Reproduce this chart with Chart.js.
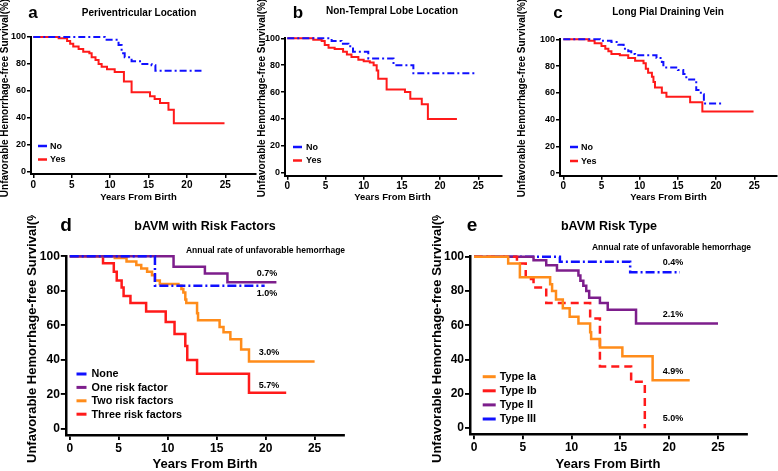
<!DOCTYPE html>
<html>
<head>
<meta charset="utf-8">
<script src="https://cdn.jsdelivr.net/npm/chart.js@4.4.1/dist/chart.umd.min.js"></script>
<style>
  body { margin: 0; background: #fff; width: 778px; height: 471px; position: relative; overflow: hidden; }
  canvas { position: absolute; }
</style>
</head>
<body>
<canvas id="ca" width="258" height="215" style="left:0;top:0"></canvas>
<canvas id="cb" width="255" height="215" style="left:255px;top:0"></canvas>
<canvas id="cc" width="263" height="215" style="left:515px;top:0"></canvas>
<canvas id="cd" width="390" height="256" style="left:0;top:215px"></canvas>
<canvas id="ce" width="388" height="256" style="left:390px;top:215px"></canvas>

<script>
// ---- data (years from birth / survival %) ----
const xTicks = [0, 5, 10, 15, 20, 25];
const yTicks = [0, 20, 40, 60, 80, 100];

// a: periventricular location
const aNoT  = [0, 9.3, 11.1, 11.5, 11.9, 12.8, 13.9, 15.4, 15.9, 21.9];
const aNoV  = [100, 98, 94, 88, 85, 82, 80, 79, 75, 75];
const aYesT = [0, 3.3, 4.4, 4.8, 5.2, 5.9, 6.5, 7.3, 7.6, 8.1, 8.5, 8.9, 9.6, 10.6, 11.8, 12.8, 15.2, 15.8, 16.5, 17.6, 18.3, 24.9];
const aYesV = [100, 99, 97, 95, 93, 91, 89, 88, 85, 83, 80, 78, 76, 74, 67, 59, 56, 54, 51, 46, 36, 36];

// b: non-temporal lobe location
const bNoT  = [0, 5.8, 7.1, 8.0, 8.6, 10.6, 13.9, 16.5, 24.8];
const bNoV  = [100, 98, 96, 94, 90, 85, 80, 74, 74];
const bYesT = [0, 3.4, 4.5, 4.9, 5.4, 6.2, 7.3, 7.8, 8.4, 9.3, 10.0, 10.8, 11.3, 11.7, 11.9, 13.0, 15.4, 16.1, 17.6, 18.4, 22.2];
const bYesV = [100, 99, 98, 95, 93, 92, 90, 88, 86, 84, 83, 82, 80, 76, 70, 62, 60, 55, 51, 40, 40];

// c: long pial draining vein
const cNoT  = [0, 4.8, 6.3, 7.2, 7.9, 8.5, 8.9, 9.4, 12.2, 12.9, 13.1, 15.0, 15.7, 16.1, 17.4, 18.0, 18.4, 20.9];
const cNoV  = [100, 99, 98, 96, 93, 91, 89, 88, 86, 83, 79, 77, 74, 70, 62, 59, 52, 52];
const cYesT = [0, 3.3, 4.1, 5.0, 5.5, 5.9, 6.3, 7.4, 8.5, 9.4, 10.5, 10.8, 11.1, 11.6, 11.8, 12.0, 12.9, 13.5, 16.6, 18.2, 24.9];
const cYesV = [100, 99, 97, 95, 93, 91, 89, 88, 86, 84, 82, 78, 75, 72, 68, 64, 60, 57, 53, 46, 46];

// d: number of risk factors
const dNames  = ['None', 'One risk factor', 'Two risk factors', 'Three risk factors'];
const dNoneT  = [0, 8.7, 19.9];
const dNoneV  = [100, 83, 83];
const dOneT   = [0, 10.6, 13.8, 16.1, 21.1];
const dOneV   = [100, 94, 90, 85, 85];
const dTwoT   = [0, 4.6, 5.8, 6.8, 7.3, 7.9, 8.4, 8.7, 9.2, 11.1, 11.4, 11.6, 11.8, 11.9, 13.0, 13.1, 15.3, 15.7, 16.4, 17.5, 18.3, 25.0];
const dTwoV   = [100, 99, 97, 95, 93, 91, 89, 86, 84, 83, 81, 79, 75, 73, 67, 63, 59, 56, 52, 46, 39, 39];
const dThreeT = [0, 3.4, 4.5, 4.8, 5.3, 5.5, 6.2, 7.8, 9.8, 10.7, 11.8, 12.0, 13.0, 18.3, 22.1];
const dThreeV = [100, 96, 91, 86, 82, 77, 73, 68, 62, 55, 48, 40, 32, 21, 21];
const dRates  = ['0.7%', '1.0%', '3.0%', '5.7%'];

// e: risk type
const eNames = ['Type Ia', 'Type Ib', 'Type II', 'Type III'];
const eIaT   = [0, 3.5, 4.7, 7.8, 8.0, 8.4, 9.1, 9.8, 10.7, 11.9, 12.0, 12.9, 15.2, 18.3, 22.1];
const eIaV   = [100, 96, 88, 84, 80, 75, 70, 65, 61, 56, 52, 47, 42, 28, 28];
const eIbT   = [0, 4.4, 5.3, 6.1, 7.4, 11.9, 12.9, 16.1, 17.5];
const eIbV   = [100, 96, 87, 82, 73, 64, 36, 27, 0];
const eIIT   = [0, 6.1, 7.4, 8.5, 10.7, 10.9, 11.2, 11.5, 11.8, 12.9, 13.7, 16.6, 25.0];
const eIIV   = [100, 98, 95, 92, 89, 86, 83, 80, 76, 73, 69, 61, 61];
const eIIIT  = [0, 8.8, 16.0, 21.1];
const eIIIV  = [100, 97, 91, 91];
const eRates = ['0.4%', '2.1%', '4.9%', '5.0%'];

// ---- styles ----
const FONT   = '"Liberation Sans", Arial, Helvetica, sans-serif';
const BLUE   = '#1010ff';
const RED    = '#ff1a1a';
const ORANGE = '#ff8c1a';
const PURPLE = '#7d1e8c';
const DASHDOT = [7, 3, 2, 3];
const YTITLE = 'Unfavorable Hemorrhage-free Survival(%)';

function pts(t, v) {
  return t.map((x, i) => ({ x, y: v[i] }));
}

function serie(label, t, v, color, width, dash) {
  return {
    label, data: pts(t, v), borderColor: color, borderWidth: width,
    borderDash: dash || [], stepped: true, pointRadius: 0, fill: false, clip: false
  };
}

// textos, leyenda y titulos dibujados encima
const deco = {
  id: 'deco',
  afterDraw(chart, args, o) {
    const ctx = chart.ctx;
    const [ox, oy] = o.off;
    ctx.save();
    ctx.fillStyle = '#000';
    ctx.textBaseline = 'middle';
    o.texts.forEach(t => {
      ctx.font = `bold ${t.size}px ${FONT}`;
      ctx.textAlign = t.align || 'center';
      ctx.save();
      ctx.translate(t.x - ox, t.y - oy);
      if (t.rot) ctx.rotate(t.rot);
      ctx.fillText(t.text, 0, 0);
      ctx.restore();
    });
    const lg = o.legend;
    ctx.font = `bold ${lg.size}px ${FONT}`;
    ctx.textAlign = 'left';
    chart.data.datasets.forEach((ds, i) => {
      const y = lg.y + i * lg.gap - oy;
      const x = lg.x - ox;
      ctx.strokeStyle = ds.borderColor;
      ctx.lineWidth = ds.borderWidth + 0.5;
      ctx.setLineDash([]);
      ctx.beginPath();
      ctx.moveTo(x, y);
      ctx.lineTo(x + lg.len, y);
      ctx.stroke();
      ctx.fillText(ds.label, x + lg.len + lg.pad, y + 0.5);
    });
    ctx.restore();
  }
};

function kmChart(id, p) {
  const tickFont = { family: FONT, weight: 'bold' };
  return new Chart(document.getElementById(id), {
    type: 'line',
    data: { datasets: p.datasets },
    plugins: [deco],
    options: {
      responsive: false,
      animation: false,
      devicePixelRatio: 1,
      layout: { padding: { left: 0, top: p.area.t, right: p.w - p.area.r, bottom: 0 } },
      plugins: {
        legend: { display: false },
        tooltip: { enabled: false },
        deco: { off: p.off, texts: p.texts, legend: p.legend }
      },
      scales: {
        x: {
          type: 'linear', min: p.x[0], max: p.x[1],
          border: { color: '#000', width: p.axisW },
          grid: { drawOnChartArea: false, drawTicks: true, tickLength: p.tickLen, color: '#000', lineWidth: p.axisW * 0.75 },
          ticks: { color: '#000', font: { ...tickFont, size: p.xFont }, padding: p.xPad, maxRotation: 0 },
          afterBuildTicks: s => { s.ticks = xTicks.map(v => ({ value: v })); },
          afterFit: s => { s.height = p.h - p.area.b; }
        },
        y: {
          type: 'linear', min: p.y[0], max: 100,
          border: { color: '#000', width: p.axisW },
          grid: { drawOnChartArea: false, drawTicks: true, tickLength: p.tickLen, color: '#000', lineWidth: p.axisW * 0.75 },
          ticks: { color: '#000', font: { ...tickFont, size: p.yFont }, padding: 1 },
          afterBuildTicks: s => { s.ticks = yTicks.map(v => ({ value: v })); },
          afterFit: s => { s.width = p.area.l; }
        }
      }
    }
  });
}

const small = { axisW: 2, tickLen: 4, xFont: 10, yFont: 9, xPad: 1 };
const big   = { axisW: 2.5, tickLen: 5, xFont: 12, yFont: 12, xPad: 1 };

function topTexts(letter, lx, title, tx, ty, ytx, xtx) {
  return [
    { text: letter, x: lx, y: 13, size: 17 },
    { text: title, x: tx, y: ty, size: 10 },
    { text: YTITLE, x: ytx, y: 98, size: 10, rot: -Math.PI / 2 },
    { text: 'Years From Birth', x: xtx, y: 197, size: 9.5 }
  ];
}

kmChart('ca', {
  ...small, w: 258, h: 215, off: [0, 0],
  area: { l: 31, t: 37, r: 256, b: 174 }, x: [-0.3, 29], y: [-1.7],
  datasets: [
    serie('No', aNoT, aNoV, BLUE, 2, DASHDOT),
    serie('Yes', aYesT, aYesV, RED, 2)
  ],
  texts: topTexts('a', 33, 'Periventricular Location', 139, 13, 5.5, 138.5),
  legend: { x: 38, y: 146, gap: 13.5, len: 9, pad: 3, size: 9 }
});

kmChart('cb', {
  ...small, w: 255, h: 215, off: [255, 0],
  area: { l: 30, t: 38.3, r: 246.7, b: 175.7 }, x: [-0.3, 28.06], y: [-2.2],
  datasets: [
    serie('No', bNoT, bNoV, BLUE, 2, DASHDOT),
    serie('Yes', bYesT, bYesV, RED, 2)
  ],
  texts: topTexts('b', 298, 'Non-Tempral Lobe Location', 392, 11, 262, 392.5),
  legend: { x: 293, y: 147, gap: 13.5, len: 9, pad: 4, size: 9 }
});

kmChart('cc', {
  ...small, w: 263, h: 215, off: [515, 0],
  area: { l: 45, t: 39.3, r: 261.7, b: 175.7 }, x: [-0.43, 27.93], y: [-2],
  datasets: [
    serie('No', cNoT, cNoV, BLUE, 2, DASHDOT),
    serie('Yes', cYesT, cYesV, RED, 2)
  ],
  texts: topTexts('c', 558, 'Long Pial Draining Vein', 668, 12, 522, 668.5),
  legend: { x: 570, y: 147, gap: 14, len: 8, pad: 3, size: 9 }
});

kmChart('cd', {
  ...big, w: 390, h: 256, off: [0, 215],
  area: { l: 65.8, t: 41.3, r: 344, b: 220 }, x: [-0.4, 28], y: [-3.5],
  datasets: [
    serie(dNames[0], dNoneT, dNoneV, BLUE, 2.5, [9, 3, 2, 3]),
    serie(dNames[1], dOneT, dOneV, PURPLE, 2.5),
    serie(dNames[2], dTwoT, dTwoV, ORANGE, 2.5),
    serie(dNames[3], dThreeT, dThreeV, RED, 2.5)
  ],
  texts: [
    { text: 'd', x: 66, y: 226, size: 19 },
    { text: 'bAVM with Risk Factors', x: 205, y: 227, size: 12.5 },
    { text: YTITLE, x: 32.5, y: 334, size: 13, rot: -Math.PI / 2 },
    { text: 'Years From Birth', x: 205, y: 464, size: 13 },
    { text: 'Annual rate of unfavorable hemorrhage', x: 265.5, y: 251, size: 8.5 },
    { text: dRates[0], x: 267, y: 274, size: 9 },
    { text: dRates[1], x: 267, y: 294, size: 9 },
    { text: dRates[2], x: 269, y: 353, size: 9 },
    { text: dRates[3], x: 269, y: 386, size: 9 }
  ],
  legend: { x: 76.5, y: 374, gap: 13.4, len: 10, pad: 5, size: 10.8 }
});

kmChart('ce', {
  ...big, w: 388, h: 256, off: [390, 215],
  area: { l: 80, t: 41.7, r: 357.3, b: 219.3 }, x: [-0.41, 28], y: [-3.6],
  datasets: [
    serie(eNames[0], eIaT, eIaV, ORANGE, 2.5),
    serie(eNames[1], eIbT, eIbV, RED, 2.5, [8, 5]),
    serie(eNames[2], eIIT, eIIV, PURPLE, 2.5),
    serie(eNames[3], eIIIT, eIIIV, BLUE, 2.5, [9, 3, 2, 3])
  ],
  texts: [
    { text: 'e', x: 472, y: 226, size: 19 },
    { text: 'bAVM Risk Type', x: 609, y: 227, size: 12.5 },
    { text: YTITLE, x: 437.5, y: 334, size: 13, rot: -Math.PI / 2 },
    { text: 'Years From Birth', x: 608, y: 464, size: 13 },
    { text: 'Annual rate of unfavorable hemorrhage', x: 671.5, y: 248, size: 8.5 },
    { text: eRates[0], x: 673, y: 263, size: 9 },
    { text: eRates[1], x: 673, y: 315, size: 9 },
    { text: eRates[2], x: 673, y: 372, size: 9 },
    { text: eRates[3], x: 673, y: 419, size: 9 }
  ],
  legend: { x: 482.7, y: 376.7, gap: 14.1, len: 13, pad: 4, size: 10.8 }
});
</script>
</body>
</html>
